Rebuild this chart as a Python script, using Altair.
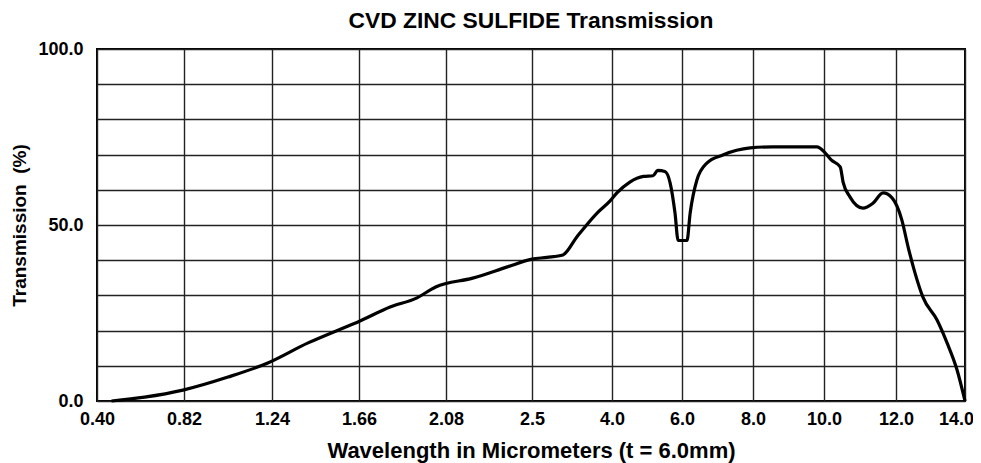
import altair as alt
import pandas as pd

# Tick wavelengths (non-uniform axis) and labels
tick_values = [0.40, 0.82, 1.24, 1.66, 2.08, 2.5, 4.0, 6.0, 8.0, 10.0, 12.0, 14.0]
tick_labels = ["0.40", "0.82", "1.24", "1.66", "2.08", "2.5", "4.0", "6.0", "8.0", "10.0", "12.0", "14.0"]

# Curve
wavelength = [0.47, 0.63, 0.815, 1.03, 1.22, 1.414, 1.57, 1.66, 1.81, 1.94, 2.03, 2.21,
              2.38, 2.5, 2.78, 3.08, 3.34, 3.72, 3.96, 4.14, 4.51, 4.9, 5.17, 5.31,
              5.51, 5.66, 5.8, 5.89, 6.14, 6.23, 6.42, 6.70, 7.15, 7.92, 8.56, 9.80,
              10.03, 10.2, 10.45, 10.53, 10.72, 11.08, 11.36, 11.64, 11.89, 12.17,
              12.35, 12.55, 12.78, 13.19, 13.48, 13.77, 14.0]
transmission = [0.0, 1.1, 3.1, 6.8, 10.8, 16.5, 20.4, 22.6, 26.7, 29.3, 32.4, 34.9,
                38.1, 40.3, 40.8, 41.5, 46.6, 53.4, 56.8, 59.1, 62.2, 63.8, 64.0, 65.5,
                65.2, 62.0, 53.4, 45.6, 45.6, 53.4, 62.8, 67.6, 69.9, 71.9, 72.2, 72.2,
                70.5, 68.5, 66.5, 62.2, 58.0, 54.8, 56.2, 59.1, 57.7, 51.4,
                43.8, 36.4, 29.5, 23.0, 16.5, 8.8, 0.0]

df = pd.DataFrame({"wl": wavelength, "t": transmission})

W, H = 868, 352
FONT = "Liberation Sans"

vals_js = "[" + ",".join(repr(v) for v in tick_values) + "]"
labs_js = "[" + ",".join("'" + s + "'" for s in tick_labels) + "]"

x_scale = alt.Scale(
    type="linear",
    domain=tick_values,
    range=[0, 87, 175, 262, 349, 435, 515, 585, 656, 727, 799, 868],
    zero=False,
    nice=False,
    clamp=True,
)

common_axis = dict(
    grid=True,
    ticks=False,
    domain=False,
    gridColor="#222",
    gridWidth=1.4,
    gridOpacity=1,
    labelFont=FONT,
    labelFontSize=18,
    labelFontWeight="bold",
    labelColor="black",
    titleFont=FONT,
    titleFontWeight="bold",
    titleColor="black",
)

chart = (
    alt.Chart(df)
    .mark_line(color="black", strokeWidth=3.2, interpolate="monotone")
    .encode(
        x=alt.X(
            "wl:Q",
            scale=x_scale,
            axis=alt.Axis(
                values=tick_values,
                labelExpr=f"{labs_js}[indexof({vals_js}, datum.value)]",
                labelFlush=False,
                labelOffset={"condition": {"test": "datum.value == 14", "value": -9}, "value": 0},
                title="Wavelength in Micrometers (t = 6.0mm)",
                titleFontSize=22,
                labelPadding=9,
                titlePadding=12,
                **common_axis,
            ),
        ),
        y=alt.Y(
            "t:Q",
            scale=alt.Scale(domain=[0, 100], nice=False),
            axis=alt.Axis(
                values=[0, 10, 20, 30, 40, 50, 60, 70, 80, 90, 100],
                labelExpr="datum.value % 50 == 0 ? format(datum.value, '.1f') : ''",
                title="Transmission\u00a0 (%)",
                titleFontSize=19,
                labelPadding=14,
                titlePadding=8,
                **common_axis,
            ),
        ),
    )
    .properties(
        width=W,
        height=H,
        background="white",
        title=alt.TitleParams(
            "CVD ZINC SULFIDE Transmission",
            font=FONT,
            fontSize=22.8,
            fontWeight="bold",
            color="black",
            anchor="middle",
            offset=7,
        ),
        autosize=alt.AutoSizeParams(type="none"),
        padding={"left": 89, "top": 41, "right": 8, "bottom": 62},
    )
    .configure_view(stroke="black", strokeWidth=2)
)

chart.save("out.html", embed_options={"renderer": "svg", "actions": False})
